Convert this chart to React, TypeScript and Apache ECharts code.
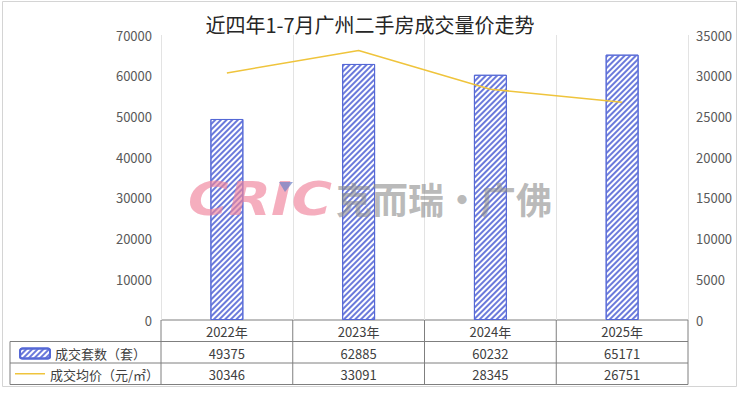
import React, { useEffect, useRef } from "react";
import * as echarts from "echarts";

// Chart data
const categories = ["2022年", "2023年", "2024年", "2025年"];
const volumeName = "成交套数（套）";
const priceName = "成交均价（元/㎡）";
const volumes = [49375, 62885, 60232, 65171];
const prices = [30346, 33091, 28345, 26751];
const leftTicks = { min: 0, max: 70000, interval: 10000 };
const rightTicks = { min: 0, max: 35000, interval: 5000 };
const title = "近四年1-7月广州二手房成交量价走势";

const W = 740;
const H = 396;
const plotLeft = 161;
const plotRight = 688;
const plotTop = 35;
const plotBottom = 320;
const tableLeft = 10;
const rowEdges = [320, 341.5, 363, 384.5];

const BAR_BORDER = "#5568d6";
const BAR_HATCH = "#6b7adb";
const LINE_COLOR = "#efc43c";
const TABLE_LINE = "#7f7f7f";
const TEXT = "#404040";

export default function App() {
  const ref = useRef<HTMLDivElement>(null);

  useEffect(() => {
    if (!ref.current) return;
    const chart = echarts.init(ref.current, null, { renderer: "svg" });
    const colW = (plotRight - plotLeft) / categories.length;
    const font = '"Noto Sans CJK SC", "Noto Sans", sans-serif';
    const rule = (x1: number, y1: number, x2: number, y2: number) => ({
      type: "line",
      shape: { x1, y1, x2, y2 },
      style: { stroke: TABLE_LINE, lineWidth: 1 },
      silent: true,
    });

    const graphics: any[] = [];
    // outer frame
    graphics.push({
      type: "rect",
      shape: { x: 2.5, y: 1.5, width: 734, height: 385 },
      style: { fill: "none", stroke: "#d4d4d4", lineWidth: 1 },
      silent: true,
    });
    // data table: horizontal rules
    graphics.push(rule(plotLeft, rowEdges[0], plotRight, rowEdges[0]));
    for (let i = 1; i < rowEdges.length; i++) {
      graphics.push(rule(tableLeft, rowEdges[i], plotRight, rowEdges[i]));
    }
    // vertical rules
    graphics.push(rule(tableLeft, rowEdges[1], tableLeft, rowEdges[3]));
    for (let i = 0; i <= categories.length; i++) {
      const x = plotLeft + colW * i;
      graphics.push(rule(x, rowEdges[0], x, rowEdges[3]));
    }
    // table cells
    const rows = [categories, volumes.map(String), prices.map(String)];
    rows.forEach((row, r) => {
      row.forEach((val, c) => {
        graphics.push({
          type: "text",
          x: plotLeft + colW * (c + 0.5),
          y: (rowEdges[r] + rowEdges[r + 1]) / 2 + 1,
          style: {
            text: val,
            fill: TEXT,
            font: `13px ${font}`,
            align: "center",
            verticalAlign: "middle",
          },
        });
      });
    });
    // price row key: plain line + label
    const priceY = (rowEdges[2] + rowEdges[3]) / 2;
    graphics.push({
      type: "line",
      shape: { x1: 15, y1: priceY, x2: 45, y2: priceY },
      style: { stroke: LINE_COLOR, lineWidth: 1.5 },
    });
    graphics.push({
      type: "text",
      x: 50,
      y: priceY + 1,
      style: {
        text: priceName,
        fill: TEXT,
        font: `13px ${font}`,
        align: "left",
        verticalAlign: "middle",
      },
    });
    // watermark
    graphics.push({
      type: "text",
      x: 188,
      y: 199,
      z: 100,
      scaleX: 1.2,
      style: {
        text: "CRIC",
        fill: "rgba(240,130,155,0.65)",
        font: `italic 900 46px "DejaVu Sans", sans-serif`,
        verticalAlign: "middle",
        align: "left",
      },
    });
    graphics.push({
      type: "polygon",
      z: 101,
      shape: { points: [[279, 182], [293, 182], [285, 192]] },
      style: { fill: "rgba(110,130,200,0.7)" },
    });
    graphics.push({
      type: "text",
      x: 336,
      y: 198,
      z: 100,
      style: {
        text: "克而瑞·广佛",
        fill: "rgba(140,140,140,0.6)",
        font: `bold 36px ${font}`,
        verticalAlign: "middle",
        align: "left",
      },
    });

    chart.setOption({
      animation: false,
      title: {
        text: title,
        left: "center",
        top: 9,
        textStyle: { fontFamily: font, fontSize: 20, fontWeight: "normal", color: "#262626" },
      },
      legend: {
        orient: "vertical",
        left: 14,
        top: 342,
        itemWidth: 30,
        itemHeight: 10,
        textStyle: { fontFamily: font, fontSize: 13, color: TEXT },
        data: [volumeName],
      },
      grid: {
        left: plotLeft,
        right: W - plotRight,
        top: plotTop,
        bottom: H - plotBottom,
      },
      xAxis: {
        type: "category",
        data: categories,
        axisLine: { show: false },
        axisTick: { show: false },
        axisLabel: { show: false },
        splitLine: { show: true, lineStyle: { color: "#e3e3e3", width: 1 } },
      },
      yAxis: [
        {
          type: "value",
          ...leftTicks,
          axisLine: { show: false },
          axisTick: { show: false },
          splitLine: { show: false },
          axisLabel: {
            color: "#595959",
            fontSize: 13,
            fontFamily: font,
            margin: 9,
            formatter: (v: number) => String(v),
          },
        },
        {
          type: "value",
          ...rightTicks,
          position: "right",
          axisLine: { show: false },
          axisTick: { show: false },
          splitLine: { show: false },
          axisLabel: {
            color: "#595959",
            fontSize: 13,
            fontFamily: font,
            margin: 8,
            formatter: (v: number) => String(v),
          },
        },
      ],
      series: [
        {
          name: volumeName,
          type: "bar",
          data: volumes,
          barWidth: "25%",
          itemStyle: {
            color: "#ffffff",
            borderColor: BAR_BORDER,
            borderWidth: 1,
            decal: {
              symbol: "rect",
              symbolSize: 1,
              dashArrayX: [1, 0],
              dashArrayY: [1.6, 1.8],
              rotation: -Math.PI / 4,
              color: BAR_HATCH,
            },
          },
        },
        {
          name: priceName,
          type: "line",
          yAxisIndex: 1,
          data: prices,
          symbol: "none",
          showSymbol: false,
          lineStyle: { color: LINE_COLOR, width: 1.5 },
          itemStyle: { color: LINE_COLOR },
        },
      ],
      graphic: graphics,
    });

    return () => chart.dispose();
  }, []);

  return (
    <div
      ref={ref}
      style={{ position: "fixed", left: 0, top: 0, width: W, height: H, background: "#fff" }}
    />
  );
}
